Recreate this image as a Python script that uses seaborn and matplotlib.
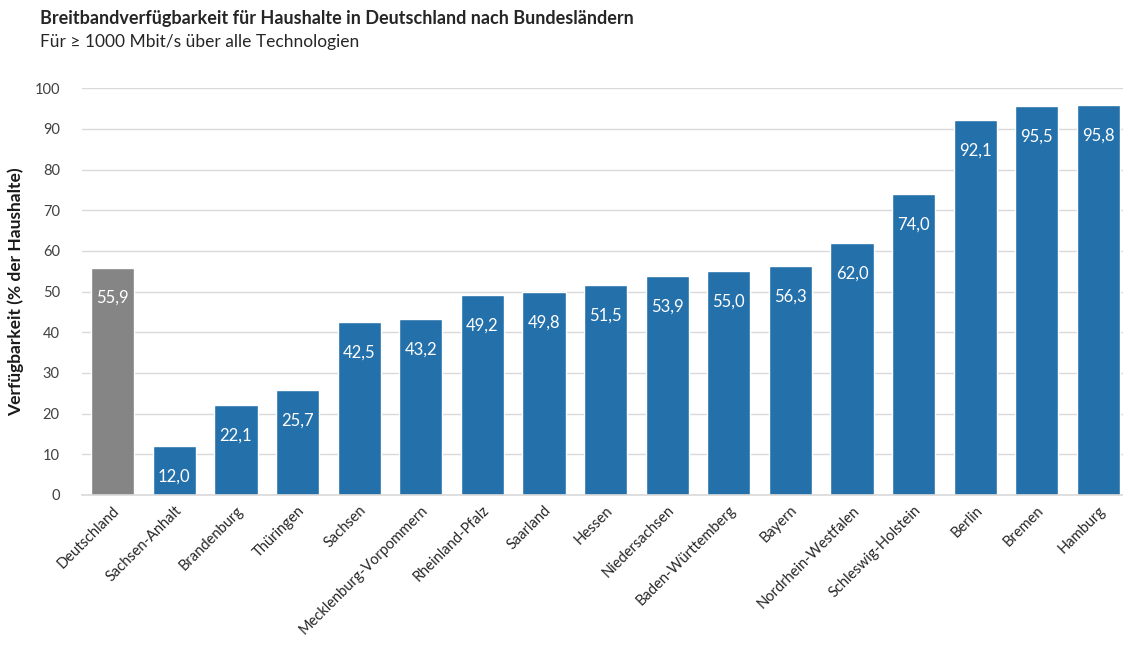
import numpy as np
import pandas as pd
import matplotlib.pyplot as plt
import seaborn as sns

# Daten
laender = ['Deutschland', 'Sachsen-Anhalt', 'Brandenburg', 'Thüringen', 'Sachsen',
           'Mecklenburg-Vorpommern', 'Rheinland-Pfalz', 'Saarland', 'Hessen',
           'Niedersachsen', 'Baden-Württemberg', 'Bayern', 'Nordrhein-Westfalen',
           'Schleswig-Holstein', 'Berlin', 'Bremen', 'Hamburg']
verfuegbarkeit = [55.9, 12.0, 22.1, 25.7, 42.5, 43.2, 49.2, 49.8, 51.5,
                  53.9, 55.0, 56.3, 62.0, 74.0, 92.1, 95.5, 95.8]
y_ticks = [0, 10, 20, 30, 40, 50, 60, 70, 80, 90, 100]

blau = '#2470ab'
grau = '#858585'
farben = [grau] + [blau] * (len(laender) - 1)

df = pd.DataFrame({'land': laender, 'wert': verfuegbarkeit})

sns.set_style('white')
plt.rcParams['font.family'] = ['Lato', 'DejaVu Sans']

fig = plt.figure(figsize=(11.23, 6.53), dpi=100)
ax = fig.add_axes([0.073, 0.242, 0.927, 0.623])

sns.barplot(data=df, x='land', y='wert', hue='land', palette=farben,
            dodge=False, width=0.7, legend=False, ax=ax, saturation=1)

ax.set_ylim(0, 100)
ax.set_xlim(-0.5, 16.4)
ax.set_yticks(y_ticks)
ax.yaxis.grid(True, color='#d9d9d9', lw=1)
ax.set_axisbelow(True)
for s in ['top', 'right', 'left']:
    ax.spines[s].set_visible(False)
ax.spines['bottom'].set_color('#d9d9d9')
ax.spines['bottom'].set_linewidth(1.2)
ax.tick_params(axis='both', length=0, labelsize=10.5, colors='#404040')
ax.tick_params(axis='y', pad=16)
ax.tick_params(axis='x', pad=6)
ax.set_xticks(range(len(laender)))
ax.set_xticklabels(laender, rotation=45, ha='right', rotation_mode='anchor',
                   color='#262626')
ax.set_xlabel('')
ax.set_ylabel('Verfügbarkeit (% der Haushalte)', fontsize=12.5,
              fontweight='bold', color='#1a1a1a', labelpad=8)
ax.yaxis.set_label_coords(-0.056, 0.5)

# Werte in die Balken
for i, v in enumerate(verfuegbarkeit):
    ax.annotate(f'{v:.1f}'.replace('.', ','), (i, v), xytext=(0, -22),
                textcoords='offset points', ha='center', va='center',
                color='white', fontsize=12)

fig.text(0.036, 0.972, 'Breitbandverfügbarkeit für Haushalte in Deutschland nach Bundesländern',
         fontsize=13, fontweight='bold', color='#262626', va='center')
fig.text(0.036, 0.936, 'Für ≥ 1000 Mbit/s über alle Technologien',
         fontsize=12.5, color='#262626', va='center')

fig.savefig('out.png', dpi=100)
